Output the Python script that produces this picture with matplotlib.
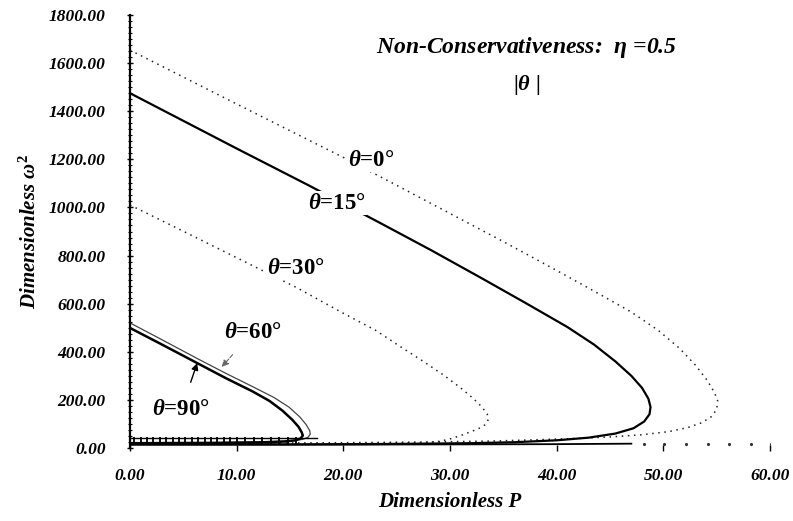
import numpy as np
import matplotlib.pyplot as plt
from matplotlib.ticker import MultipleLocator, FormatStrFormatter

plt.rcParams['font.family'] = ['Liberation Serif', 'DejaVu Serif']
plt.rcParams['mathtext.fontset'] = 'custom'
plt.rcParams['mathtext.it'] = 'Liberation Serif:italic:bold'
plt.rcParams['mathtext.rm'] = 'Liberation Serif:bold'

# ---------------- data ----------------
# theta = 0 deg (dotted)
p_t0 = [0, 10, 20, 25, 30, 35, 40, 44, 47, 49.5, 51.5, 53, 54.1, 54.8, 55.1, 55.0, 54.5,
        53.6, 52.3, 50.5, 48, 45, 42, 38, 34, 28, 20, 10, 0]
w_t0 = [1654, 1430, 1208, 1092, 975, 858, 738, 640, 565, 490, 415, 345, 282, 230, 195, 160, 130,
        105, 85, 68, 55, 46, 40, 34, 29, 25, 22, 20, 20]

# theta = 15 deg (solid)
p_t15 = [0, 10, 16.7, 23.3, 28.2, 33, 37, 41, 43.5, 45.5, 47, 48, 48.6, 48.8, 48.7, 48.2,
         47.2, 45.5, 43, 40, 36, 32, 25, 15, 0]
w_t15 = [1475, 1245, 1093, 939, 823, 705, 605, 503, 430, 360, 300, 250, 205, 170, 140, 110,
         82, 60, 43, 32, 24, 20, 17, 15, 15]

# theta = 30 deg (dotted)
p_t30 = [0, 5.5, 11, 15.7, 20, 23, 25.4, 27.5, 29.5, 31, 32.2, 33, 33.5, 33.6, 33.4, 32.9,
         32.2, 31.2, 30.2, 29.1, 27.5, 24, 18, 0]
w_t30 = [1010, 890, 769, 665, 560, 490, 420, 360, 300, 250, 205, 170, 140, 120, 100, 85,
         72, 55, 40, 28, 22, 19, 17, 17]

# theta = 60 deg (thin)
p_t60 = [0, 3, 6.3, 9, 11.5, 13.5, 14.9, 15.9, 16.5, 16.85, 16.9, 16.7, 16.2, 15.3, 13, 8, 0]
w_t60 = [520, 450, 372, 310, 255, 210, 170, 130, 98, 72, 58, 45, 36, 30, 26, 23, 22]

# theta = 90 deg (thick)
p_t90 = [0, 3, 6.3, 9, 11.5, 13.1, 14.3, 15.2, 15.8, 16.1, 16.2, 16.0, 15.5, 14.5, 12, 8, 0]
w_t90 = [499, 430, 353, 290, 235, 195, 155, 118, 88, 65, 52, 40, 32, 27, 23, 21, 20]

# low branch band near P = 0..17
band_p = [0.4, 1.0, 1.6, 2.2, 2.8, 3.4, 4.0, 4.6, 5.2, 5.8, 6.4, 7.0, 7.6, 8.2, 8.8, 9.4,
          10.0, 10.8, 11.6, 12.4, 13.2, 14.0, 14.8, 15.6]
band_w = [28] * len(band_p)
base_p = [0, 17.5, 30, 40, 47]
base_w = [14, 14, 15, 16, 18]
tail_p = [48.2, 50.1, 52.1, 54.2, 56.2, 58.2, 60.1]
tail_w = [18, 18, 18, 18, 18, 18, 18]

x_ticks = [0, 10, 20, 30, 40, 50, 60]

# ---------------- plot ----------------
fig = plt.figure(figsize=(7.93, 5.21), dpi=100)
ax = fig.add_axes([130 / 793, 73 / 521, 640 / 793, 433 / 521])

dot = (0, (1, 3))
ax.plot(p_t0, w_t0, color='#222222', lw=1.1, ls=dot)
ax.plot(p_t15, w_t15, color='black', lw=1.6)
ax.plot(p_t30, w_t30, color='#222222', lw=1.1, ls=dot)
ax.plot(p_t60, w_t60, color='#444444', lw=0.9)
ax.plot(p_t90, w_t90, color='black', lw=1.8)

ax.plot(base_p, base_w, color='black', lw=1.3)
ax.plot([0, 17.5], [40, 40], color='black', lw=1.0)
ax.plot(band_p, band_w, ls='none', marker='|', ms=6, mew=1.3, color='black')
ax.plot(tail_p, tail_w, ls='none', marker='.', ms=2.5, color='#333333')

lab = dict(fontsize=16.5, fontweight='bold', ha='center', va='center',
           bbox=dict(facecolor='white', edgecolor='none', pad=1))
ax.text(22.6, 1197, r'$\theta$=0°', **lab)
ax.text(19.4, 1018, r'$\theta$=15°', **lab)
ax.text(15.6, 748, r'$\theta$=30°', **lab)

ax.annotate(r'$\theta$=60°', xy=(8.6, 337), xytext=(11.5, 482), fontsize=16.5,
            fontweight='bold', ha='center', va='center',
            arrowprops=dict(arrowstyle='-|>', color='#666666', lw=0.8, ls='--',
                            shrinkA=9, shrinkB=0, mutation_scale=10))
ax.annotate(r'$\theta$=90°', xy=(6.3, 353), xytext=(4.8, 158), fontsize=16.5,
            fontweight='bold', ha='center', va='center',
            arrowprops=dict(arrowstyle='-|>', color='black', lw=1.0,
                            shrinkA=11, shrinkB=0, mutation_scale=10))

ax.text(0.62, 0.924, r'Non-Conservativeness:  $\eta$ =0.5', transform=ax.transAxes,
        fontsize=17, fontweight='bold', fontstyle='italic', ha='center', va='center')
ax.text(0.62, 0.838, r'|$\theta$ |', transform=ax.transAxes,
        fontsize=16, fontweight='bold', ha='center', va='center')

ax.set_xlim(0, 60)
ax.set_ylim(0, 1800)
ax.set_xticks(x_ticks)
ax.yaxis.set_major_locator(MultipleLocator(200))
ax.yaxis.set_minor_locator(MultipleLocator(25))
ax.xaxis.set_major_formatter(FormatStrFormatter('%.2f'))
ax.yaxis.set_major_formatter(FormatStrFormatter('%.2f'))

for s in ['top', 'right', 'bottom']:
    ax.spines[s].set_visible(False)
ax.spines['left'].set_linewidth(1.6)

ax.tick_params(axis='y', which='major', direction='inout', length=5, width=1, pad=15,
               labelsize=12.5)
ax.tick_params(axis='y', which='minor', direction='inout', length=3, width=0.8)
ax.tick_params(axis='x', which='major', direction='inout', length=5, width=1, pad=12,
               labelsize=12.5)
for t in ax.get_xticklabels() + ax.get_yticklabels():
    t.set_fontstyle('italic')
    t.set_fontweight('bold')

ax.set_xlabel('Dimensionless P', fontsize=15, fontweight='bold', fontstyle='italic',
              labelpad=6)
ax.set_ylabel(r'Dimensionless $\omega^2$', fontsize=15, fontweight='bold',
              fontstyle='italic', labelpad=6)

fig.savefig('out.png', dpi=100)
